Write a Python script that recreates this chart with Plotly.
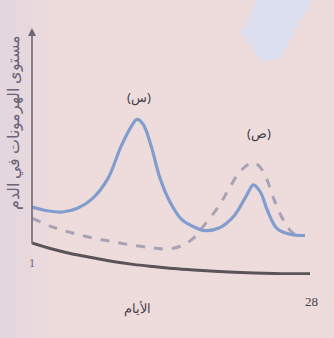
import plotly.graph_objects as go

# Data (days 1..28, hormone level arbitrary units 0..100)
days_s = [1, 2.5, 4, 5.5, 7, 8.5, 9.8, 10.8, 11.4, 12.0, 12.8, 13.6, 14.6, 15.8, 17.0, 18.0, 19.5, 21.0, 22.2, 22.9, 23.6, 24.3, 25.2, 26.5, 28.0]
level_s = [27.5, 26.0, 25.5, 27.0, 31.0, 39.0, 52.0, 60.0, 63.0, 61.0, 52.0, 40.0, 30.0, 22.5, 19.5, 18.0, 19.0, 24.0, 32.0, 36.5, 33.5, 26.0, 19.0, 16.5, 16.0]

days_p = [1, 3, 5, 7, 9, 11, 13, 14.5, 15.9, 17.0, 18.0, 19.5, 20.5, 21.6, 22.8, 23.5, 24.2, 25.0, 25.9, 26.8, 27.5]
level_p = [23.0, 19.5, 17.0, 15.0, 13.5, 12.0, 11.0, 10.5, 12.0, 15.0, 20.0, 28.0, 35.0, 42.0, 45.5, 44.0, 39.0, 30.0, 22.0, 17.0, 16.0]

baseline_days = [1, 3, 5, 7, 9, 11, 13, 15, 17, 19, 21, 23, 25, 27, 28.5]
baseline_level = [13.0, 10.5, 8.5, 7.0, 5.5, 4.3, 3.4, 2.6, 2.0, 1.5, 1.1, 0.8, 0.6, 0.5, 0.5]

tick_text = ["1", "28"]

x_title = "الأيام"
y_title = "مستوى الهرمونات في الدم"
label_s = "(س)"
label_p = "(ص)"

TXT = "#443f48"

fig = go.Figure()

fig.add_trace(go.Scatter(x=baseline_days, y=baseline_level, mode="lines",
                         line=dict(color="#5a5458", width=3, shape="spline"),
                         hoverinfo="skip", showlegend=False))
fig.add_trace(go.Scatter(x=days_p, y=level_p, mode="lines",
                         line=dict(color="#a7a3b4", width=3, dash="dash", shape="spline"),
                         showlegend=False))
fig.add_trace(go.Scatter(x=days_s, y=level_s, mode="lines",
                         line=dict(color="#809dce", width=3.2, shape="spline"),
                         showlegend=False))

ann = dict(showarrow=False, xanchor="center", yanchor="middle")
fig.add_annotation(x=11.6, y=72, text=label_s, **ann,
                   font=dict(size=13, color=TXT, family="Noto Sans"))
fig.add_annotation(x=23.5, y=57.5, text=label_p, **ann,
                   font=dict(size=13, color=TXT, family="Noto Sans"))
fig.add_annotation(x=0.38, xref="paper", y=-0.134, yref="paper", text=x_title, **ann,
                   font=dict(size=13, color=TXT, family="Noto Sans"))
fig.add_annotation(x=0.0, xref="paper", y=0.049, yref="paper", text=tick_text[0], **ann,
                   font=dict(size=12, color="#6a6470", family="Liberation Serif"))
fig.add_annotation(x=1.004, xref="paper", y=-0.109, yref="paper", text=tick_text[1], **ann,
                   font=dict(size=13, color=TXT, family="Liberation Serif"))
fig.add_annotation(x=0.0, xref="paper", y=0.615, yref="paper", text=y_title, **ann,
                   textangle=-90, xshift=-19,
                   font=dict(size=16, color="#6a6478", family="Noto Sans"))

# photo tint on the left edge (soft gradient)
for x1, op in [(0.06, 0.12), (0.0, 0.14), (-0.06, 0.16)]:
    fig.add_shape(type="rect", xref="paper", yref="paper", layer="below",
                  x0=-0.12, x1=x1, y0=-0.26, y1=1.12,
                  fillcolor="#d4cde6", line=dict(width=0), opacity=op)
# photo highlight (light blue stripe at top right)
fig.add_shape(type="path", xref="paper", yref="paper", layer="below",
              path="M 0.812,1.12 L 1.01,1.12 L 0.893,0.88 L 0.83,0.86 L 0.752,0.98 Z",
              fillcolor="#d9dff1", line=dict(width=0), opacity=0.9)

fig.update_layout(
    width=334, height=338,
    margin=dict(l=32, r=24, t=28, b=63),
    paper_bgcolor="#eedcdc",
    plot_bgcolor="rgba(0,0,0,0)",
    xaxis=dict(range=[1, 28.5], showgrid=False, zeroline=False, showline=False,
               showticklabels=False, ticks=""),
    yaxis=dict(range=[0, 100], showgrid=False, zeroline=False, showline=False,
               showticklabels=False),
    font=dict(family="Noto Sans"),
)

# y axis line with arrow
fig.add_annotation(x=1, y=100, ax=1, ay=12, xref="x", yref="y", axref="x", ayref="y",
                   showarrow=True, arrowhead=2, arrowsize=1, arrowwidth=1.6,
                   arrowcolor="#6f6a78", text="")

fig.write_html("out.html", config={"displayModeBar": False},
               post_script="document.body.style.margin='0';")
